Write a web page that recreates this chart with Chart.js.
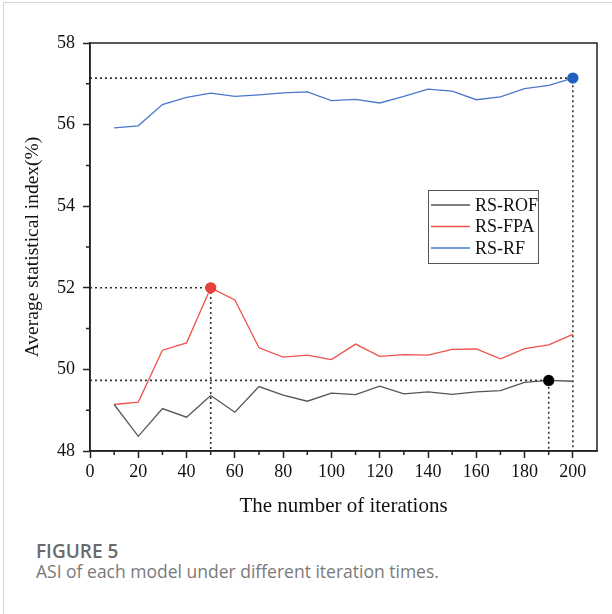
<!DOCTYPE html>
<html>
<head>
<meta charset="utf-8">
<script src="https://cdn.jsdelivr.net/npm/chart.js@4.4.1/dist/chart.umd.min.js"></script>
<style>
  html, body { margin: 0; padding: 0; background: #fff; }
  #wrap { position: relative; width: 612px; height: 614px; overflow: hidden; }
  #frame { position: absolute; left: 3px; top: 2px; width: 700px; height: 700px;
           border-top: 1px solid #d4d4d4; border-left: 1px solid #d4d4d4; }
  #chart { position: absolute; left: 0; top: 0; }
  .fig { position: absolute; left: 36px; top: 538px; font: 600 19px "Open Sans", sans-serif; color: #6b6b6b; }
  .cap { position: absolute; left: 36px; top: 559px; font: 400 17.5px "Open Sans", sans-serif; color: #7a7a7a; }
</style>
</head>
<body>
<div id="wrap">
  <div id="frame"></div>
  <canvas id="chart" width="612" height="530"></canvas>
  <div class="fig">FIGURE 5</div>
  <div class="cap">ASI of each model under different iteration times.</div>
</div>
<script>
const iterations = [10, 20, 30, 40, 50, 60, 70, 80, 90, 100, 110, 120, 130, 140, 150, 160, 170, 180, 190, 200];

const rsRof = [49.14, 48.36, 49.04, 48.83, 49.36, 48.95, 49.58, 49.37, 49.22, 49.42,
               49.38, 49.59, 49.40, 49.45, 49.39, 49.45, 49.48, 49.68, 49.73, 49.71];
const rsFpa = [49.14, 49.20, 50.47, 50.65, 52.00, 51.70, 50.53, 50.30, 50.35, 50.24,
               50.62, 50.32, 50.36, 50.35, 50.49, 50.50, 50.26, 50.51, 50.60, 50.86];
const rsRf  = [55.92, 55.97, 56.49, 56.67, 56.77, 56.69, 56.73, 56.78, 56.80, 56.59,
               56.62, 56.53, 56.69, 56.87, 56.82, 56.61, 56.68, 56.88, 56.96, 57.14];

// index of the highlighted point of each series
const bestRof = 18, bestFpa = 4, bestRf = 19;

const xTicks = [0, 20, 40, 60, 80, 100, 120, 140, 160, 180, 200];
const yTicks = [48, 50, 52, 54, 56, 58];

const serif = "'Liberation Serif', 'Times New Roman', serif";

function pts(ys) {
    return iterations.map((x, i) => ({ x: x, y: ys[i] }));
}

// dotted guide: from the y axis to the point, then down to the x axis
function guide(i, ys) {
    return {
        data: [{ x: 0, y: ys[i] }, { x: iterations[i], y: ys[i] }, { x: iterations[i], y: 48 }],
        borderColor: "#333",
        borderWidth: 1.6,
        borderDash: [2, 3],
        pointRadius: 0,
        order: 10
    };
}

function series(label, ys, color, dot, best) {
    return {
        label: label,
        data: pts(ys),
        borderColor: color,
        borderWidth: 1.3,
        pointRadius: ctx => ctx.dataIndex === best ? 5 : 0,
        pointBackgroundColor: dot,
        pointBorderColor: dot,
        order: 1
    };
}

const minorTicks = {
    id: "minorTicks",
    afterDraw(chart) {
        const { ctx, chartArea: a, scales: { x, y } } = chart;
        ctx.save();
        ctx.strokeStyle = "#222";
        ctx.lineWidth = 1.5;
        ctx.strokeRect(a.left, a.top, a.right - a.left, a.bottom - a.top);
        ctx.beginPath();
        for (let v = 10; v < 200; v += 20) {
            const px = x.getPixelForValue(v);
            ctx.moveTo(px, a.bottom);
            ctx.lineTo(px, a.bottom + 4);
        }
        for (let v = 49; v < 58; v += 2) {
            const py = y.getPixelForValue(v);
            ctx.moveTo(a.left - 4, py);
            ctx.lineTo(a.left, py);
        }
        ctx.stroke();
        ctx.restore();
    }
};

const legendBox = {
    id: "legendBox",
    afterDraw(chart) {
        const { ctx, chartArea: a } = chart;
        const bx = a.left + 338, by = a.top + 147;
        ctx.save();
        ctx.fillStyle = "#fff";
        ctx.fillRect(bx, by, 110, 73);
        ctx.strokeStyle = "#555";
        ctx.lineWidth = 1;
        ctx.strokeRect(bx + 0.5, by + 0.5, 110, 73);
        ctx.font = "18px " + serif;
        ctx.textBaseline = "middle";
        chart.data.datasets.filter(d => d.label).forEach((d, k) => {
            const ry = by + 15 + k * 21.5;
            ctx.strokeStyle = d.borderColor;
            ctx.lineWidth = 1.3;
            ctx.beginPath();
            ctx.moveTo(bx + 3, ry);
            ctx.lineTo(bx + 42, ry);
            ctx.stroke();
            ctx.fillStyle = "#111";
            ctx.fillText(d.label, bx + 47, ry + 1);
        });
        ctx.restore();
    }
};

new Chart(document.getElementById("chart"), {
    type: "line",
    data: {
        datasets: [
            series("RS-ROF", rsRof, "#555555", "#000000", bestRof),
            series("RS-FPA", rsFpa, "#f0514b", "#e8413c", bestFpa),
            series("RS-RF", rsRf, "#4a78cc", "#1f5fbf", bestRf),
            guide(bestRf, rsRf),
            guide(bestFpa, rsFpa),
            guide(bestRof, rsRof)
        ]
    },
    options: {
        responsive: false,
        animation: false,
        devicePixelRatio: 1,
        layout: { padding: { left: 0, top: 43, right: 15, bottom: 0 } },
        plugins: {
            legend: { display: false },
            tooltip: { enabled: false }
        },
        scales: {
            x: {
                type: "linear",
                min: 0,
                max: 210,
                afterFit: s => { s.height = 79; },
                afterBuildTicks: s => { s.ticks = xTicks.map(v => ({ value: v })); },
                ticks: { color: "#111", padding: 3, font: { family: serif, size: 18 } },
                grid: { drawOnChartArea: false, tickLength: 7, tickColor: "#222", tickWidth: 1.5 },
                border: { color: "#222", width: 1.5 },
                title: {
                    display: true,
                    text: "The number of iterations",
                    color: "#111",
                    font: { family: serif, size: 21 },
                    padding: { top: 0, bottom: 11 }
                }
            },
            y: {
                min: 48,
                max: 58,
                afterFit: s => { s.width = 90; },
                afterBuildTicks: s => { s.ticks = yTicks.map(v => ({ value: v })); },
                ticks: { color: "#111", padding: 8, font: { family: serif, size: 18 } },
                grid: { drawOnChartArea: false, tickLength: 7, tickColor: "#222", tickWidth: 1.5 },
                border: { color: "#222", width: 1.5 },
                title: {
                    display: true,
                    text: "Average statistical index(%)",
                    color: "#111",
                    font: { family: serif, size: 19.5 },
                    padding: { top: 21, bottom: 0 }
                }
            }
        }
    },
    plugins: [minorTicks, legendBox]
});
</script>
</body>
</html>
